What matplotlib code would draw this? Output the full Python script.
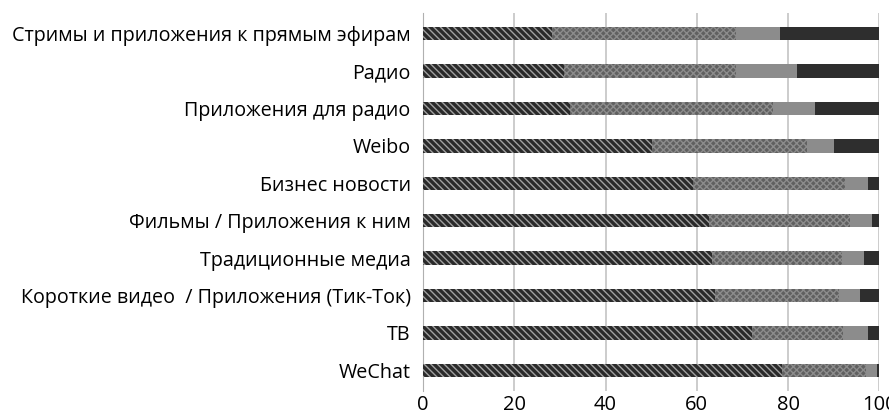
import matplotlib.pyplot as plt
import numpy as np

plt.rcParams['font.family'] = ['Open Sans', 'DejaVu Sans']
plt.rcParams['hatch.linewidth'] = 1.0

# categories, top to bottom
CATEGORIES = ['Стримы и приложения к прямым эфирам', 'Радио', 'Приложения для радио',
              'Weibo', 'Бизнес новости', 'Фильмы / Приложения к ним',
              'Традиционные медиа', 'Короткие видео  / Приложения (Тик-Ток)', 'ТВ', 'WeChat']

# four stacked segments (percent)
seg1 = [28.3, 30.9, 32.1, 50.2, 59.1, 62.7, 63.3, 64.1, 72.2, 78.6]
seg2 = [40.3, 37.8, 44.7, 34.0, 33.5, 30.9, 28.6, 27.0, 19.8, 18.4]
seg3 = [9.6, 13.3, 9.2, 5.8, 4.9, 4.9, 4.7, 4.7, 5.5, 2.6]
seg4 = [21.8, 18.0, 14.0, 10.0, 2.5, 1.5, 3.4, 4.2, 2.5, 0.4]

TICKS = [0, 20, 40, 60, 80, 100]

# styles: (facecolor, hatch colour, hatch)
STYLES = [('#2a2a2a', '#a0a0a0', '\\\\\\\\\\'),
          ('#606060', '#8c8c8c', 'xxxxx'),
          ('#8c8c8c', '#8c8c8c', None),
          ('#2e2e2e', '#2e2e2e', None)]

fig = plt.figure(figsize=(8.89, 4.19), dpi=100)
ax = fig.add_axes([0.476, 0.067, 0.513, 0.902])

y = np.arange(len(CATEGORIES))
left = np.zeros(len(CATEGORIES))
for vals, (fc, hc, hatch) in zip([seg1, seg2, seg3, seg4], STYLES):
    ax.barh(y, vals, left=left, height=0.36, color=fc, edgecolor=hc,
            linewidth=0, hatch=hatch, zorder=3)
    left += np.array(vals)

ax.set_xlim(0, 100)
ax.set_ylim(len(CATEGORIES) - 0.45, -0.55)
ax.set_xticks(TICKS)
ax.set_yticks(y)
ax.set_yticklabels(CATEGORIES, fontsize=14.2)
ax.tick_params(axis='x', labelsize=14.5, length=0, pad=3)
ax.tick_params(axis='y', length=0, pad=9)
ax.grid(axis='x', color='#c4c4c4', linewidth=1.2, zorder=0)
for s in ['top', 'right', 'bottom']:
    ax.spines[s].set_visible(False)
ax.spines['left'].set_color('#b0b0b0')

fig.savefig('out.png', dpi=100)
